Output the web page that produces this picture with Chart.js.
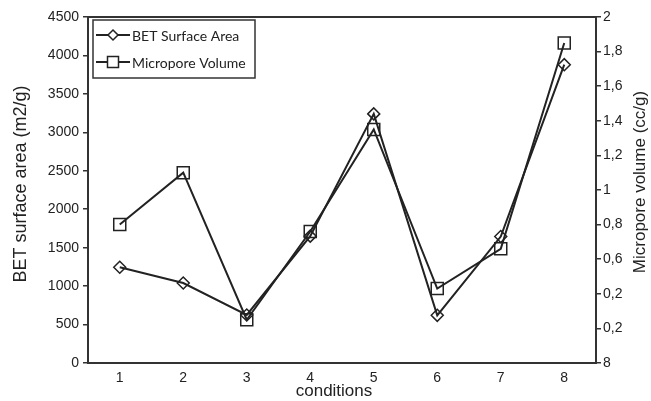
<!DOCTYPE html>
<html>
<head>
<meta charset="utf-8">
<script src="https://cdn.jsdelivr.net/npm/chart.js@4/dist/chart.umd.min.js"></script>
<style>
  html, body { margin: 0; padding: 0; background: #fff; }
  #wrap { width: 651px; height: 401px; position: relative; }
</style>
</head>
<body>
<div id="wrap"><canvas id="c" width="651" height="401"></canvas></div>
<script>
const categories = ['1', '2', '3', '4', '5', '6', '7', '8'];
const betSurfaceArea = [1245, 1040, 625, 1650, 3240, 620, 1645, 3880];
const microporeVolume = [0.80, 1.10, 0.25, 0.76, 1.35, 0.43, 0.66, 1.85];
const rightTickLabels = ['8', '0,2', '0,2', '0,6', '0,8', '1', '1,2', '1,4', '1,6', '1,8', '2'];
const seriesNames = ['BET Surface Area', 'Micropore Volume'];
const leftTitle = 'BET surface area (m2/g)';
const rightTitle = 'Micropore volume (cc/g)';
const xTitle = 'conditions';

const INK = '#222';
const AXIS = '#333';
const FAM = "'Liberation Sans', Arial, sans-serif";

function drawText(ctx, text, x, y, size, rot) {
  ctx.save();
  ctx.translate(x, y);
  if (rot) ctx.rotate(rot);
  ctx.fillStyle = INK;
  ctx.font = size + 'px ' + FAM;
  ctx.textAlign = 'center';
  ctx.textBaseline = 'middle';
  ctx.fillText(text, 0, 0);
  ctx.restore();
}

const frameAndLegend = {
  id: 'frameAndLegend',
  afterDraw(chart) {
    const ctx = chart.ctx;
    const a = chart.chartArea;
    ctx.save();
    // top border
    ctx.strokeStyle = AXIS;
    ctx.lineWidth = 2;
    ctx.beginPath();
    ctx.moveTo(a.left - 1, a.top);
    ctx.lineTo(a.right + 1, a.top);
    ctx.stroke();
    // axis titles
    drawText(ctx, leftTitle, 21, 184, 18, -Math.PI / 2);
    drawText(ctx, rightTitle, 640, 182, 17, -Math.PI / 2);
    drawText(ctx, xTitle, 334, 391, 17, 0);
    // legend box
    const bx = a.left + 5, by = a.top + 3, bw = 162, bh = 58;
    ctx.lineWidth = 1.5;
    ctx.strokeStyle = AXIS;
    ctx.fillStyle = '#fff';
    ctx.fillRect(bx, by, bw, bh);
    ctx.strokeRect(bx, by, bw, bh);
    const rows = [by + 15, by + 42];
    chart.data.datasets.forEach((ds, i) => {
      const y = rows[i];
      ctx.strokeStyle = INK;
      ctx.lineWidth = 1.8;
      ctx.beginPath();
      ctx.moveTo(bx + 3, y);
      ctx.lineTo(bx + 37, y);
      ctx.stroke();
      const cx = bx + 20;
      ctx.fillStyle = '#fff';
      ctx.lineWidth = 1.5;
      ctx.beginPath();
      if (i === 0) {
        const r = 5;
        ctx.moveTo(cx, y - r); ctx.lineTo(cx + r, y); ctx.lineTo(cx, y + r); ctx.lineTo(cx - r, y); ctx.closePath();
      } else {
        const h = 5.5;
        ctx.rect(cx - h, y - h, 2 * h, 2 * h);
      }
      ctx.fill();
      ctx.stroke();
      ctx.fillStyle = INK;
      ctx.font = '14px Lato';
      ctx.textBaseline = 'middle';
      ctx.textAlign = 'left';
      ctx.fillText(ds.label, bx + 39, y + 1);
    });
    ctx.restore();
  }
};

new Chart(document.getElementById('c'), {
  type: 'line',
  data: {
    labels: categories,
    datasets: [
      {
        label: seriesNames[0],
        data: betSurfaceArea,
        yAxisID: 'y',
        borderColor: INK,
        borderWidth: 2,
        pointStyle: 'rectRot',
        pointRadius: 6,
        pointBorderWidth: 1.5,
        pointBorderColor: INK,
        pointBackgroundColor: 'rgba(255,255,255,0)',
        tension: 0
      },
      {
        label: seriesNames[1],
        data: microporeVolume,
        yAxisID: 'y1',
        borderColor: INK,
        borderWidth: 2,
        pointStyle: 'rect',
        pointRadius: 8.5,
        pointBorderWidth: 1.5,
        pointBorderColor: INK,
        pointBackgroundColor: 'rgba(255,255,255,0)',
        tension: 0
      }
    ]
  },
  options: {
    responsive: false,
    animation: false,
    devicePixelRatio: 1,
    layout: { padding: { top: 17, right: 0, bottom: 0, left: 0 } },
    plugins: { legend: { display: false }, tooltip: { enabled: false } },
    scales: {
      x: {
        type: 'category',
        offset: true,
        grid: { display: false, drawTicks: false },
        border: { display: true, color: AXIS, width: 2 },
        ticks: { color: INK, font: { family: FAM, size: 14 }, padding: 7, maxRotation: 0 },
        title: { display: false, text: xTitle },
        afterFit(s) { s.height = 38; }
      },
      y: {
        position: 'left',
        min: 0, max: 4500,
        ticks: { stepSize: 500, color: INK, font: { family: FAM, size: 14 }, padding: 4, callback: v => String(v) },
        grid: { drawOnChartArea: false, drawTicks: true, tickLength: 5, color: AXIS, lineWidth: 1.5 },
        border: { display: true, color: AXIS, width: 2 },
        title: { display: false, text: leftTitle },
        afterFit(s) { s.width = 88; }
      },
      y1: {
        position: 'right',
        min: 0, max: 2,
        ticks: {
          stepSize: 0.2, color: INK, font: { family: FAM, size: 14 }, padding: 2,
          callback: (v, i) => rightTickLabels[i]
        },
        grid: { drawOnChartArea: false, drawTicks: true, tickLength: 5, color: AXIS, lineWidth: 1.5 },
        border: { display: true, color: AXIS, width: 2 },
        title: { display: false, text: rightTitle },
        afterFit(s) { s.width = 55; }
      }
    }
  },
  plugins: [frameAndLegend]
});
</script>
</body>
</html>
